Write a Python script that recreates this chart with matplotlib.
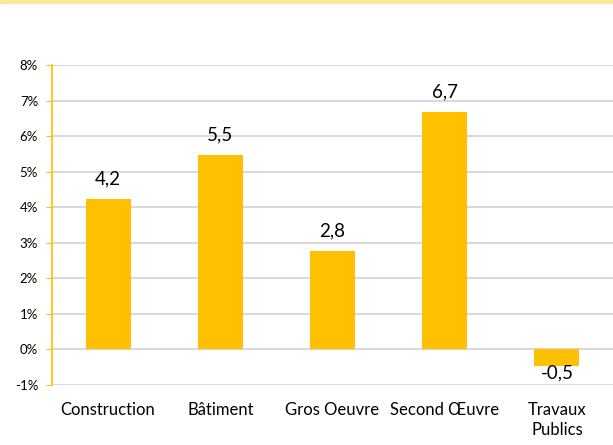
import matplotlib.pyplot as plt
from matplotlib.patches import Rectangle

plt.rcParams['font.family'] = ['Lato', 'DejaVu Sans']

categories = ['Construction', 'Bâtiment', 'Gros Oeuvre', 'Second Œuvre', 'Travaux\nPublics']
values = [4.24, 5.47, 2.77, 6.68, -0.47]
labels = ['4,2', '5,5', '2,8', '6,7', '-0,5']
yticks = [-1, 0, 1, 2, 3, 4, 5, 6, 7, 8]

fig = plt.figure(figsize=(6.13, 4.45), dpi=100)
fig.patches.append(Rectangle((0, 1 - 2.5 / 445), 1, 2.5 / 445, transform=fig.transFigure,
                             color='#FFE699', zorder=0))
ax = fig.add_axes([52 / 613, 60 / 445, 1 - 52 / 613, 320 / 445])

x = range(len(categories))
bars = ax.bar(x, values, width=0.4, color='#FFC000', zorder=3)

for xi, v, lab in zip(x, values, labels):
    if v >= 0:
        ax.annotate(lab, (xi, v), xytext=(0, 8), textcoords='offset points',
                    ha='center', va='bottom', fontsize=13.5, color='#000000')
    else:
        ax.annotate(lab, (xi, v), xytext=(0, 1), textcoords='offset points',
                    ha='center', va='top', fontsize=13.5, color='#000000')

ax.set_xlim(-0.5, len(categories) - 0.5)
ax.set_ylim(-1, 8)
ax.set_yticks(yticks)
ax.set_yticklabels([f'{t}%' for t in yticks], fontsize=9.5)
ax.set_xticks(list(x))
ax.set_xticklabels(categories, fontsize=12, linespacing=1.35)
ax.tick_params(axis='x', length=0, pad=12)
ax.tick_params(axis='y', length=4, color='#FFC000', direction='out', pad=6)

ax.grid(axis='y', color='#D9D9D9', linewidth=1.5, zorder=0)
for s in ['top', 'right', 'bottom']:
    ax.spines[s].set_visible(False)
ax.spines['left'].set_color('#FFC000')
ax.spines['left'].set_linewidth(1.2)

fig.savefig('out.png', dpi=100)
